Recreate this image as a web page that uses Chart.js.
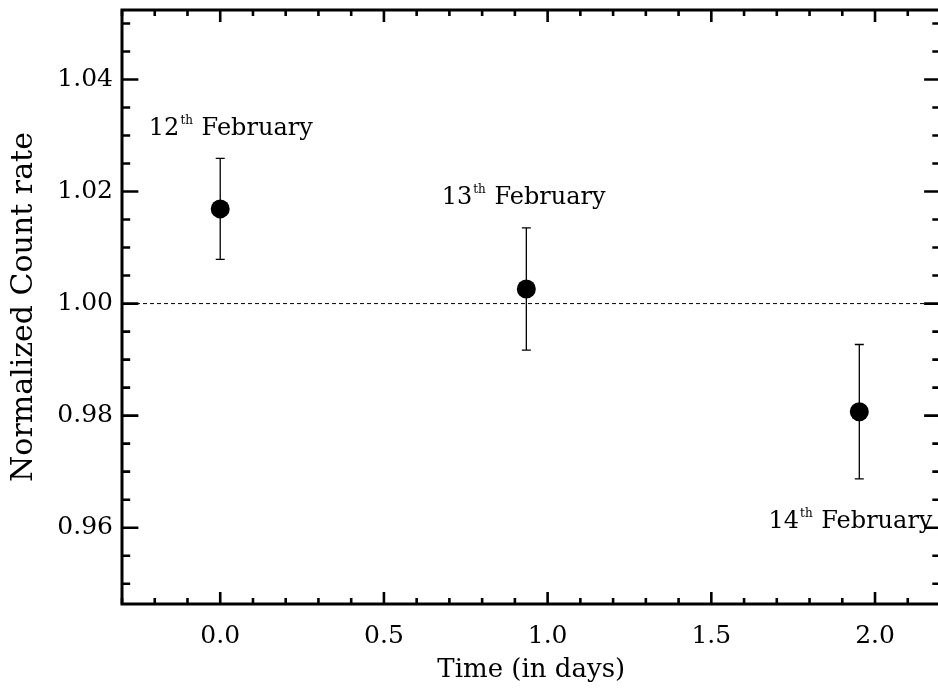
<!DOCTYPE html>
<html>
<head>
<meta charset="utf-8">
<script src="https://cdn.jsdelivr.net/npm/chart.js@4.4.1/dist/chart.umd.min.js"></script>
<style>
html,body{margin:0;padding:0;background:#fff;overflow:hidden;width:938px;height:693px;}
#wrap{width:950px;height:693px;}
</style>
</head>
<body>
<div id="wrap"><canvas id="c" width="950" height="693"></canvas></div>
<script>
// ---- data ----
const dayLabels = ["12", "13", "14"];
const timeDays = [0.0, 0.935, 1.952];
const countRate = [1.0169, 1.0026, 0.9807];
const rateErr = [0.0090, 0.0109, 0.0120];
const referenceLevel = 1.0;

const xMajorTicks = [0.0, 0.5, 1.0, 1.5, 2.0];
const xMinorTicks = [-0.3, -0.2, -0.1, 0.1, 0.2, 0.3, 0.4, 0.6, 0.7, 0.8, 0.9, 1.1, 1.2, 1.3, 1.4, 1.6, 1.7, 1.8, 1.9, 2.1, 2.2];
const yMajorTicks = [0.96, 0.98, 1.00, 1.02, 1.04];
const yMinorTicks = [0.95, 0.955, 0.965, 0.97, 0.975, 0.985, 0.99, 0.995, 1.005, 1.01, 1.015, 1.025, 1.03, 1.035, 1.045, 1.05];

const xRange = [-0.3, 2.2];
const yRange = [0.94638, 1.0524];

// annotation anchors (data units): left edge x, baseline y
const annotAnchors = [
  {x: -0.218, y: 1.0301},
  {x: 0.6765, y: 1.01778},
  {x: 1.6747, y: 0.95995}
];

const FONT = "'DejaVu Serif', serif";

const points = timeDays.map((t, i) => ({x: t, y: countRate[i]}));

const framePlugin = {
  id: 'frame',
  beforeDatasetsDraw(chart) {
    const {ctx, scales: {x, y}} = chart;
    ctx.save();
    ctx.strokeStyle = '#000';
    ctx.lineWidth = 1.3;
    points.forEach((p, i) => {
      const px = x.getPixelForValue(p.x);
      const top = y.getPixelForValue(p.y + rateErr[i]);
      const bot = y.getPixelForValue(p.y - rateErr[i]);
      ctx.beginPath();
      ctx.moveTo(px, top); ctx.lineTo(px, bot);
      ctx.moveTo(px - 4.5, top); ctx.lineTo(px + 4.5, top);
      ctx.moveTo(px - 4.5, bot); ctx.lineTo(px + 4.5, bot);
      ctx.stroke();
    });
    ctx.restore();
  },
  afterDraw(chart) {
    const {ctx, chartArea: a, scales: {x, y}} = chart;
    ctx.save();
    ctx.strokeStyle = '#000';
    ctx.lineWidth = 2.6;
    ctx.lineCap = 'butt';
    const xl = a.bottom - a.top, yl = a.right - a.left;
    const xMaj = 0.02 * xl, yMaj = 0.02 * yl;
    ctx.beginPath();
    xMajorTicks.forEach(v => {
      const px = x.getPixelForValue(v);
      ctx.moveTo(px, a.bottom); ctx.lineTo(px, a.bottom - xMaj);
      ctx.moveTo(px, a.top); ctx.lineTo(px, a.top + xMaj);
    });
    xMinorTicks.forEach(v => {
      const px = x.getPixelForValue(v);
      ctx.moveTo(px, a.bottom); ctx.lineTo(px, a.bottom - xMaj / 2);
      ctx.moveTo(px, a.top); ctx.lineTo(px, a.top + xMaj / 2);
    });
    yMajorTicks.forEach(v => {
      const py = y.getPixelForValue(v);
      ctx.moveTo(a.left, py); ctx.lineTo(a.left + yMaj, py);
      ctx.moveTo(a.right, py); ctx.lineTo(a.right - yMaj, py);
    });
    yMinorTicks.forEach(v => {
      const py = y.getPixelForValue(v);
      ctx.moveTo(a.left, py); ctx.lineTo(a.left + yMaj / 2, py);
      ctx.moveTo(a.right, py); ctx.lineTo(a.right - yMaj / 2, py);
    });
    ctx.stroke();
    ctx.lineWidth = 3;
    ctx.strokeRect(a.left, a.top, a.right - a.left, a.bottom - a.top);

    // annotations
    ctx.fillStyle = '#000';
    ctx.textBaseline = 'alphabetic';
    ctx.textAlign = 'left';
    annotAnchors.forEach((an, i) => {
      let px = x.getPixelForValue(an.x);
      const py = y.getPixelForValue(an.y);
      ctx.font = '24px ' + FONT;
      ctx.fillText(dayLabels[i], px, py);
      px += ctx.measureText(dayLabels[i]).width + 1;
      ctx.font = '12px ' + FONT;
      ctx.fillText('th', px, py - 11);
      px += ctx.measureText('th').width + 1;
      ctx.font = '24px ' + FONT;
      ctx.fillText(' February', px, py);
    });
    ctx.restore();
  }
};

new Chart(document.getElementById('c'), {
  type: 'scatter',
  data: {
    datasets: [
      {
        label: 'ref',
        type: 'line',
        data: [{x: xRange[0], y: referenceLevel}, {x: xRange[1], y: referenceLevel}],
        borderColor: '#000',
        borderWidth: 1,
        borderDash: [4, 3],
        pointRadius: 0,
        fill: false
      },
      {
        label: 'rate',
        data: points,
        backgroundColor: '#000',
        borderColor: '#000',
        pointRadius: 9.5,
        pointHoverRadius: 9.5,
        borderWidth: 0
      }
    ]
  },
  options: {
    responsive: false,
    animation: false,
    devicePixelRatio: 1,
    layout: {padding: {left: 0, top: 10, right: 6.4, bottom: 0}},
    plugins: {legend: {display: false}, tooltip: {enabled: false}},
    scales: {
      x: {
        type: 'linear',
        min: xRange[0], max: xRange[1],
        grid: {display: false, drawTicks: false},
        border: {display: false},
        afterBuildTicks: s => { s.ticks = xMajorTicks.map(v => ({value: v})); },
        afterFit: s => { s.height = 89; s.paddingLeft = 0; s.paddingRight = 0; },
        ticks: {
          color: '#000',
          font: {family: FONT, size: 25},
          padding: 17,
          maxRotation: 0,
          callback: v => Number(v).toFixed(1)
        },
        title: {
          display: true,
          text: 'Time (in days)',
          color: '#000',
          font: {family: FONT, size: 26},
          padding: {top: 0, bottom: 7}
        }
      },
      y: {
        type: 'linear',
        min: yRange[0], max: yRange[1],
        grid: {display: false, drawTicks: false},
        border: {display: false},
        afterBuildTicks: s => { s.ticks = yMajorTicks.map(v => ({value: v})); },
        afterFit: s => { s.width = 122; s.paddingTop = 0; s.paddingBottom = 0; },
        ticks: {
          color: '#000',
          font: {family: FONT, size: 25},
          padding: 9,
          callback: v => Number(v).toFixed(2)
        },
        title: {
          display: true,
          text: 'Normalized Count rate',
          color: '#000',
          font: {family: FONT, size: 30},
          padding: {top: 6, bottom: 0}
        }
      }
    }
  },
  plugins: [framePlugin]
});
</script>
</body>
</html>
